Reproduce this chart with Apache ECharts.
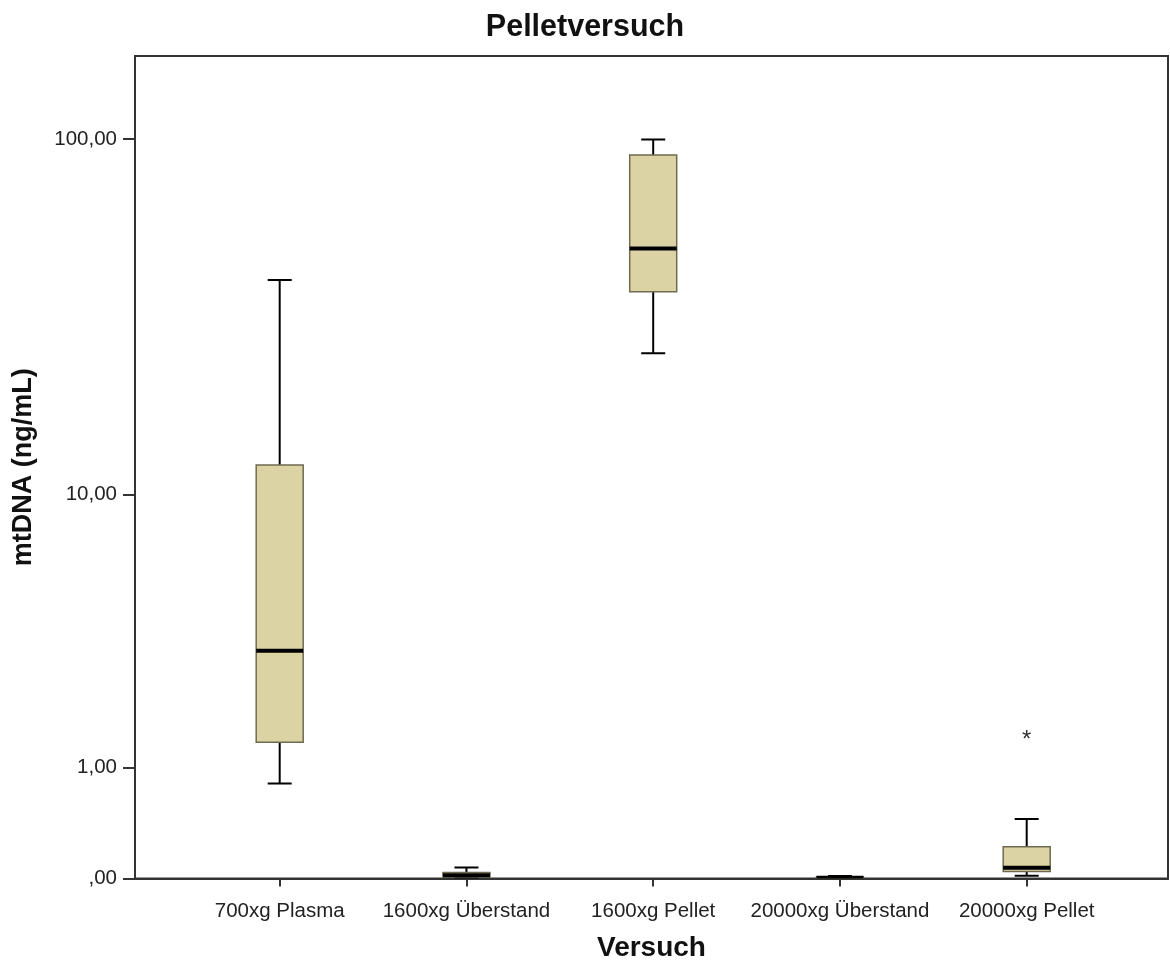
<!DOCTYPE html>
<html>
<head>
<meta charset="utf-8">
<title>Pelletversuch</title>
<script src="https://cdn.jsdelivr.net/npm/echarts@6/dist/echarts.min.js"></script>
<style>
  html, body { margin: 0; padding: 0; background: #fff; }
  #chart { width: 1170px; height: 965px; }
</style>
</head>
<body>
<div id="chart"></div>
<script>
// Groups along the x axis
const categories = ['700xg Plasma', '1600xg Überstand', '1600xg Pellet', '20000xg Überstand', '20000xg Pellet'];

// Box plot statistics per group, mtDNA in ng/mL
const whiskerLow  = [0.81, 0.005, 25.5, 0.000, 0.018];
const quartile1   = [1.34, 0.010, 37.9, 0.002, 0.045];
const medians     = [3.14, 0.020, 50.0, 0.005, 0.070];
const quartile3   = [12.2, 0.038, 90.4, 0.010, 0.220];
const whiskerHigh = [40.9, 0.071, 99.6, 0.016, 0.450];

// Extreme values drawn as "*"
const outlierGroups = ['20000xg Pellet'];
const outlierValues = [1.46];

// Labelled values on the y axis
const yTicks = [0, 1, 10, 100];

// The y axis uses a log scale that is safe at zero: log10(1 + v)
const toAxis = v => Math.log10(1 + v);
const fromAxis = a => Math.pow(10, a) - 1;
const yMaxValue = 168.5;

const boxData = categories.map((c, i) => [i,
  toAxis(whiskerLow[i]), toAxis(quartile1[i]), toAxis(medians[i]),
  toAxis(quartile3[i]), toAxis(whiskerHigh[i])]);
const outlierData = outlierGroups.map((g, i) => [categories.indexOf(g), toAxis(outlierValues[i])]);

const FONT = "'Liberation Sans', Arial, sans-serif";
const BOX_W = 47, CAP_W = 24;

function fmtTick(a) {
  const v = Math.round(fromAxis(a));
  if (v === 0) return ',00';
  return v + ',00';
}

function renderBox(params, api) {
  const x = api.value(0);
  const pLo = api.coord([x, api.value(1)]);
  const pQ1 = api.coord([x, api.value(2)]);
  const pMed = api.coord([x, api.value(3)]);
  const pQ3 = api.coord([x, api.value(4)]);
  const pHi = api.coord([x, api.value(5)]);
  const cx = pMed[0];
  const whisker = { stroke: '#000', lineWidth: 2 };
  return {
    type: 'group',
    children: [
      { type: 'line', shape: { x1: cx, y1: pLo[1], x2: cx, y2: pHi[1] }, style: whisker },
      { type: 'line', shape: { x1: cx - CAP_W / 2, y1: pLo[1], x2: cx + CAP_W / 2, y2: pLo[1] }, style: whisker },
      { type: 'line', shape: { x1: cx - CAP_W / 2, y1: pHi[1], x2: cx + CAP_W / 2, y2: pHi[1] }, style: whisker },
      { type: 'rect', shape: { x: cx - BOX_W / 2, y: pQ3[1], width: BOX_W, height: pQ1[1] - pQ3[1] },
        style: { fill: '#DCD3A4', stroke: '#6f6a52', lineWidth: 1.5 } },
      { type: 'line', shape: { x1: cx - BOX_W / 2, y1: pMed[1], x2: cx + BOX_W / 2, y2: pMed[1] },
        style: { stroke: '#000', lineWidth: 4 } }
    ]
  };
}

function renderOutlier(params, api) {
  const p = api.coord([api.value(0), api.value(1)]);
  return {
    type: 'text',
    x: p[0], y: p[1] + 6,
    style: { text: '*', fill: '#333', font: '24px ' + FONT, align: 'center', verticalAlign: 'middle' }
  };
}

const chart = echarts.init(document.getElementById('chart'), null, { renderer: 'canvas' });
chart.setOption({
  backgroundColor: '#fff',
  animation: false,
  title: {
    text: 'Pelletversuch', left: 'center', top: 7,
    textStyle: { fontFamily: FONT, fontSize: 30.5, fontWeight: 'bold', color: '#111' }
  },
  grid: {
    left: 135, right: 2, top: 56, bottom: 86.5, outerBoundsMode: 'none',
    show: true, borderColor: '#333', borderWidth: 2, backgroundColor: '#fff'
  },
  xAxis: {
    type: 'value', min: -0.7748, max: 4.7566,
    name: 'Versuch', nameLocation: 'middle', nameGap: 56,
    nameTextStyle: { fontFamily: FONT, fontSize: 28, fontWeight: 'bold', color: '#111' },
    axisLine: { show: true, onZero: false, lineStyle: { color: '#333', width: 2 } },
    axisTick: { show: true, length: 8, customValues: [0, 1, 2, 3, 4], lineStyle: { color: '#333', width: 2 } },
    axisLabel: {
      customValues: [0, 1, 2, 3, 4], margin: 22,
      fontFamily: FONT, fontSize: 20.5, color: '#222',
      formatter: v => categories[Math.round(v)]
    },
    splitLine: { show: false }
  },
  yAxis: {
    type: 'value', min: 0, max: toAxis(yMaxValue),
    name: 'mtDNA (ng/mL)', nameLocation: 'middle', nameGap: 98,
    nameTextStyle: { fontFamily: FONT, fontSize: 27, fontWeight: 'bold', color: '#111' },
    axisLine: { show: true, onZero: false, lineStyle: { color: '#333', width: 2 } },
    axisTick: { show: true, length: 12, customValues: yTicks.map(toAxis), lineStyle: { color: '#333', width: 2 } },
    axisLabel: {
      customValues: yTicks.map(toAxis), margin: 18,
      fontFamily: FONT, fontSize: 20.5, color: '#222',
      formatter: fmtTick
    },
    splitLine: { show: false }
  },
  series: [
    { type: 'custom', renderItem: renderBox, data: boxData, encode: { x: 0, y: [1, 2, 3, 4, 5] }, clip: true },
    { type: 'custom', renderItem: renderOutlier, data: outlierData, encode: { x: 0, y: 1 } }
  ]
});
</script>
</body>
</html>
